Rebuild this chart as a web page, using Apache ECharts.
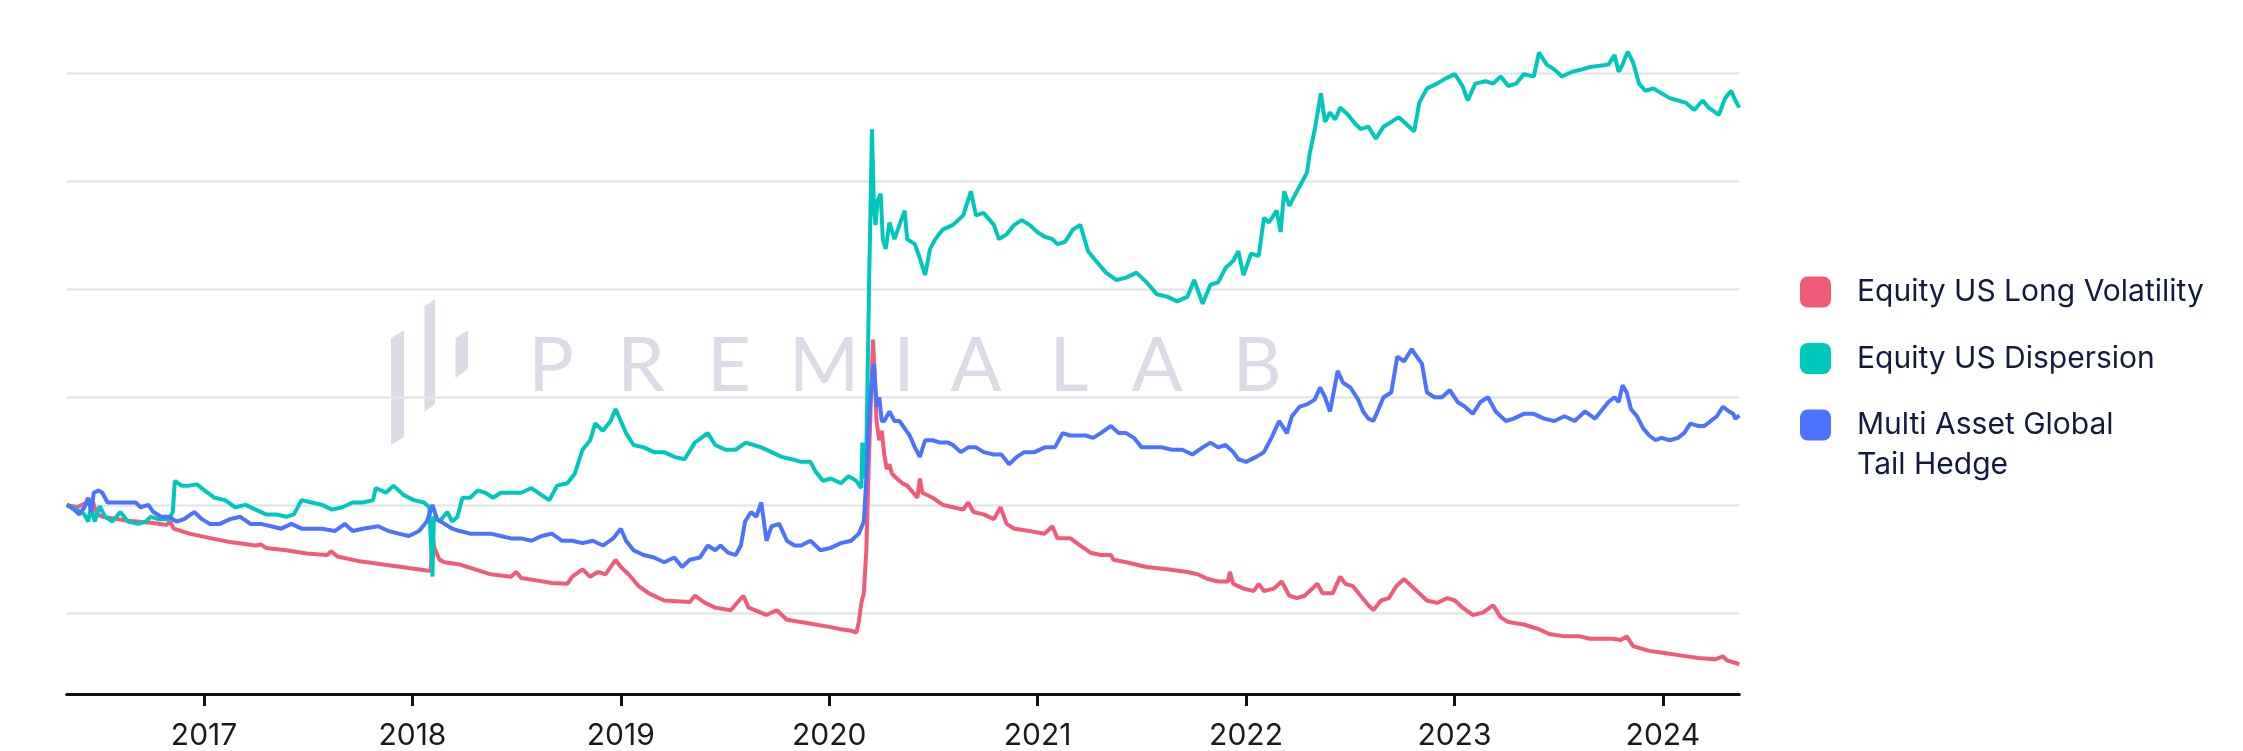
<!DOCTYPE html>
<html>
<head>
<meta charset="utf-8">
<script src="https://cdn.jsdelivr.net/npm/echarts@6/dist/echarts.min.js"></script>
<style>
html,body{margin:0;padding:0;background:#ffffff;}
#chart{width:2243px;height:751px;}
</style>
</head>
<body>
<div id="chart"></div>
<script>
// ---- Data (x = date as decimal year, y = index level, start = 100) ----
const seriesNames = ['Equity US Long Volatility', 'Equity US Dispersion', 'Multi Asset Global Tail Hedge'];
const seriesColors = ['#f05c77', '#00c7bc', '#4b73ff'];
const tickYears = [2017, 2018, 2019, 2020, 2021, 2022, 2023, 2024];
const gridValues = [50, 100, 150, 200, 250, 300];
const startYear = 2016.341;
const endYear = 2024.367;

const longVolatility = [
[2016.341,100.3],[2016.390,99.2],[2016.463,102.5],[2016.488,95.9],[2016.512,94.8],[2016.635,93.0],[2016.757,91.9],[2016.819,91.0],[2016.838,92.6],[2016.855,89.3],[2016.929,87.0],[2017.002,85.5],[2017.125,83.1],[2017.248,81.5],[2017.272,82.0],[2017.297,80.4],[2017.395,79.3],[2017.493,77.8],[2017.591,77.1],[2017.610,78.9],[2017.640,76.4],[2017.738,74.4],[2017.860,72.7],[2017.983,71.1],[2018.069,70.0],[2018.088,69.8],[2018.096,87.0],[2018.105,80.4],[2018.130,74.9],[2018.154,73.8],[2018.228,72.7],[2018.301,70.5],[2018.375,68.2],[2018.473,67.1],[2018.498,69.3],[2018.522,66.5],[2018.596,65.4],[2018.669,64.2],[2018.743,63.8],[2018.767,67.1],[2018.816,70.5],[2018.853,67.1],[2018.890,69.3],[2018.926,68.2],[2018.975,74.9],[2019.000,71.6],[2019.037,68.2],[2019.086,62.7],[2019.135,59.4],[2019.208,56.1],[2019.331,55.4],[2019.355,58.3],[2019.404,55.0],[2019.453,52.8],[2019.527,51.6],[2019.588,58.3],[2019.613,52.8],[2019.698,49.4],[2019.748,51.6],[2019.797,47.2],[2019.865,46.1],[2019.934,45.0],[2020.000,43.9],[2020.056,42.8],[2020.105,42.1],[2020.130,41.2],[2020.142,46.1],[2020.154,54.9],[2020.166,59.4],[2020.178,79.3],[2020.191,123.6],[2020.203,156.8],[2020.210,176.7],[2020.220,156.8],[2020.227,139.1],[2020.240,130.2],[2020.252,134.6],[2020.264,123.6],[2020.276,116.9],[2020.289,119.1],[2020.301,114.7],[2020.325,112.5],[2020.350,110.3],[2020.374,109.2],[2020.423,103.6],[2020.435,112.5],[2020.447,105.9],[2020.496,103.6],[2020.545,100.3],[2020.594,99.2],[2020.643,98.1],[2020.667,101.4],[2020.692,97.0],[2020.741,95.9],[2020.790,93.7],[2020.822,99.2],[2020.851,91.5],[2020.888,89.3],[2020.961,88.2],[2021.034,87.0],[2021.071,90.4],[2021.095,84.9],[2021.156,84.9],[2021.205,81.5],[2021.254,78.2],[2021.303,77.1],[2021.352,77.1],[2021.364,74.9],[2021.425,73.8],[2021.523,71.6],[2021.621,70.5],[2021.719,69.3],[2021.768,68.2],[2021.817,66.0],[2021.866,64.9],[2021.914,64.9],[2021.922,69.3],[2021.939,63.8],[2021.988,61.6],[2022.037,60.5],[2022.061,63.8],[2022.086,60.5],[2022.134,61.6],[2022.171,64.9],[2022.208,58.3],[2022.244,57.2],[2022.281,58.3],[2022.318,61.6],[2022.342,63.8],[2022.367,59.4],[2022.416,59.4],[2022.452,67.1],[2022.477,63.8],[2022.513,62.7],[2022.550,58.3],[2022.587,53.9],[2022.611,51.6],[2022.648,56.1],[2022.685,57.2],[2022.721,62.7],[2022.758,66.0],[2022.795,62.7],[2022.831,59.4],[2022.868,56.1],[2022.917,55.0],[2022.966,57.2],[2023.002,56.1],[2023.039,52.8],[2023.088,49.4],[2023.137,50.5],[2023.186,53.9],[2023.222,48.3],[2023.259,46.1],[2023.333,45.0],[2023.406,42.8],[2023.455,40.6],[2023.528,39.5],[2023.601,39.5],[2023.650,38.4],[2023.758,38.4],[2023.798,37.8],[2023.827,39.5],[2023.857,35.0],[2023.935,32.8],[2024.014,31.7],[2024.092,30.6],[2024.171,29.5],[2024.250,28.9],[2024.289,30.2],[2024.308,28.4],[2024.367,26.6]
];

const dispersion = [
[2016.341,100.3],[2016.390,98.1],[2016.426,95.9],[2016.444,92.6],[2016.458,99.2],[2016.475,92.6],[2016.500,99.7],[2016.525,94.8],[2016.561,92.6],[2016.598,97.0],[2016.635,92.6],[2016.684,91.5],[2016.721,92.6],[2016.745,94.8],[2016.782,93.7],[2016.831,93.7],[2016.850,97.0],[2016.860,111.4],[2016.892,109.2],[2016.929,109.2],[2016.966,109.8],[2017.002,107.0],[2017.051,103.6],[2017.100,102.5],[2017.150,99.2],[2017.199,100.3],[2017.248,98.1],[2017.297,95.9],[2017.346,95.9],[2017.395,94.8],[2017.431,95.9],[2017.468,102.5],[2017.517,101.4],[2017.566,100.3],[2017.615,98.1],[2017.664,99.2],[2017.713,101.4],[2017.762,101.4],[2017.811,102.5],[2017.824,108.1],[2017.873,105.9],[2017.909,109.2],[2017.958,104.8],[2018.007,102.5],[2018.056,101.4],[2018.081,99.2],[2018.096,67.1],[2018.103,94.8],[2018.130,92.6],[2018.167,97.0],[2018.191,92.6],[2018.216,94.8],[2018.240,103.6],[2018.277,103.6],[2018.314,107.0],[2018.350,105.9],[2018.387,103.6],[2018.424,105.9],[2018.473,105.9],[2018.522,105.9],[2018.571,108.1],[2018.620,104.8],[2018.657,102.5],[2018.694,109.2],[2018.743,110.3],[2018.779,114.7],[2018.816,125.8],[2018.853,130.2],[2018.877,138.0],[2018.914,134.6],[2018.951,139.1],[2018.975,144.6],[2019.000,139.1],[2019.025,133.5],[2019.061,128.0],[2019.110,126.9],[2019.159,124.7],[2019.208,124.7],[2019.257,122.5],[2019.306,121.4],[2019.355,129.1],[2019.417,133.5],[2019.453,128.0],[2019.502,125.8],[2019.551,125.8],[2019.600,129.1],[2019.637,128.0],[2019.674,126.9],[2019.723,124.7],[2019.772,122.5],[2019.821,121.4],[2019.865,120.2],[2019.910,120.2],[2019.934,115.8],[2019.971,111.4],[2020.007,112.5],[2020.056,110.3],[2020.093,113.6],[2020.130,111.4],[2020.154,108.1],[2020.159,129.1],[2020.166,112.5],[2020.178,123.6],[2020.191,201.0],[2020.198,236.4],[2020.205,274.0],[2020.215,236.4],[2020.222,229.8],[2020.232,240.9],[2020.247,244.2],[2020.257,223.2],[2020.271,218.7],[2020.289,230.9],[2020.313,223.2],[2020.337,229.8],[2020.362,236.4],[2020.374,223.2],[2020.411,220.9],[2020.435,214.3],[2020.460,206.6],[2020.484,218.7],[2020.509,223.2],[2020.545,227.6],[2020.594,229.8],[2020.643,234.2],[2020.680,245.3],[2020.704,234.2],[2020.741,235.3],[2020.790,229.8],[2020.814,223.2],[2020.851,225.4],[2020.888,229.8],[2020.924,232.0],[2020.961,229.8],[2020.998,226.5],[2021.034,224.3],[2021.071,223.2],[2021.095,220.9],[2021.132,222.0],[2021.169,227.6],[2021.205,229.8],[2021.242,217.6],[2021.279,213.2],[2021.328,207.7],[2021.377,204.3],[2021.425,205.4],[2021.474,207.7],[2021.523,203.2],[2021.572,197.7],[2021.621,196.6],[2021.670,194.4],[2021.719,196.6],[2021.751,204.3],[2021.792,193.3],[2021.829,202.1],[2021.866,203.2],[2021.902,209.9],[2021.939,213.2],[2021.963,217.6],[2021.988,206.6],[2022.024,216.5],[2022.061,215.4],[2022.086,233.1],[2022.110,230.9],[2022.147,236.4],[2022.166,226.5],[2022.183,245.3],[2022.208,238.6],[2022.244,245.3],[2022.269,249.7],[2022.293,254.1],[2022.306,263.0],[2022.330,274.0],[2022.342,280.7],[2022.359,290.6],[2022.379,277.4],[2022.403,281.8],[2022.428,278.5],[2022.452,284.0],[2022.489,280.7],[2022.526,276.3],[2022.550,274.1],[2022.587,275.2],[2022.623,269.6],[2022.660,275.2],[2022.697,277.4],[2022.733,279.6],[2022.770,276.3],[2022.807,273.0],[2022.831,286.2],[2022.868,292.9],[2022.917,295.1],[2022.954,297.3],[2023.002,299.5],[2023.039,294.0],[2023.064,287.3],[2023.100,295.1],[2023.149,296.2],[2023.186,295.1],[2023.222,298.4],[2023.259,294.0],[2023.296,295.1],[2023.333,299.5],[2023.381,298.4],[2023.406,309.5],[2023.443,303.9],[2023.479,301.7],[2023.516,298.4],[2023.565,300.6],[2023.614,301.7],[2023.650,302.8],[2023.739,303.9],[2023.768,308.3],[2023.788,300.6],[2023.807,303.9],[2023.831,309.9],[2023.857,305.0],[2023.886,295.1],[2023.916,291.8],[2023.955,292.9],[2023.994,290.6],[2024.033,288.4],[2024.073,287.3],[2024.112,286.2],[2024.151,282.9],[2024.191,287.3],[2024.220,284.0],[2024.269,280.7],[2024.299,288.4],[2024.328,291.8],[2024.348,287.3],[2024.367,284.0]
];

const tailHedge = [
[2016.341,100.3],[2016.377,98.1],[2016.402,95.9],[2016.426,99.2],[2016.444,103.6],[2016.458,97.0],[2016.471,105.9],[2016.493,107.0],[2016.512,105.9],[2016.537,101.4],[2016.574,101.4],[2016.623,101.4],[2016.672,101.4],[2016.696,99.2],[2016.733,100.3],[2016.757,97.0],[2016.794,94.8],[2016.831,94.8],[2016.868,92.6],[2016.904,93.7],[2016.953,97.0],[2016.990,93.7],[2017.027,91.5],[2017.076,91.5],[2017.125,93.7],[2017.174,94.8],[2017.223,91.5],[2017.272,91.5],[2017.321,90.4],[2017.370,89.3],[2017.419,91.5],[2017.468,89.3],[2017.517,89.3],[2017.566,89.3],[2017.627,88.2],[2017.676,91.5],[2017.713,88.2],[2017.762,89.3],[2017.836,90.4],[2017.885,88.2],[2017.934,87.0],[2017.983,85.9],[2018.032,88.2],[2018.069,92.6],[2018.096,100.3],[2018.118,93.7],[2018.154,91.5],[2018.191,89.3],[2018.228,88.2],[2018.277,87.0],[2018.326,87.0],[2018.375,87.0],[2018.424,85.9],[2018.473,84.8],[2018.522,84.8],[2018.571,83.7],[2018.620,85.9],[2018.669,87.0],[2018.718,83.7],[2018.767,83.7],[2018.816,82.6],[2018.865,83.7],[2018.914,81.5],[2018.963,84.8],[2019.000,89.3],[2019.025,83.7],[2019.061,79.3],[2019.110,77.1],[2019.159,76.0],[2019.208,73.8],[2019.257,76.0],[2019.294,71.6],[2019.331,74.9],[2019.380,76.0],[2019.417,81.5],[2019.453,79.3],[2019.478,81.5],[2019.515,78.2],[2019.551,77.1],[2019.576,81.5],[2019.596,92.6],[2019.625,97.0],[2019.650,94.8],[2019.674,101.4],[2019.699,83.7],[2019.723,90.4],[2019.760,91.5],[2019.797,83.7],[2019.833,81.5],[2019.865,81.5],[2019.910,83.7],[2019.958,79.3],[2020.007,80.4],[2020.056,82.6],[2020.105,83.7],[2020.142,87.0],[2020.166,92.6],[2020.178,112.5],[2020.191,139.1],[2020.203,156.8],[2020.215,165.6],[2020.227,145.7],[2020.240,150.1],[2020.252,139.1],[2020.264,139.1],[2020.289,143.5],[2020.313,139.1],[2020.337,139.1],[2020.362,135.7],[2020.386,132.4],[2020.411,126.9],[2020.435,122.5],[2020.460,130.2],[2020.496,130.2],[2020.533,129.1],[2020.570,129.1],[2020.594,128.0],[2020.631,124.7],[2020.667,126.9],[2020.704,126.9],[2020.741,124.7],[2020.790,123.6],[2020.826,123.6],[2020.863,119.1],[2020.900,122.5],[2020.936,124.7],[2020.985,124.7],[2021.034,126.9],[2021.083,126.9],[2021.120,133.5],[2021.156,132.4],[2021.193,132.4],[2021.230,132.4],[2021.267,131.3],[2021.303,133.5],[2021.352,136.8],[2021.389,133.5],[2021.425,133.5],[2021.462,131.3],[2021.499,126.9],[2021.548,126.9],[2021.597,126.9],[2021.645,125.8],[2021.694,125.8],[2021.743,123.6],[2021.792,126.9],[2021.829,129.1],[2021.866,126.9],[2021.902,128.0],[2021.939,124.7],[2021.963,121.4],[2022.000,120.2],[2022.049,122.5],[2022.086,124.7],[2022.122,131.3],[2022.159,139.1],[2022.196,133.5],[2022.220,141.3],[2022.257,145.7],[2022.293,146.8],[2022.330,149.0],[2022.355,154.6],[2022.379,150.1],[2022.403,143.5],[2022.440,162.3],[2022.465,156.8],[2022.501,154.6],[2022.538,149.0],[2022.562,143.5],[2022.587,140.2],[2022.611,139.1],[2022.636,144.6],[2022.660,150.1],[2022.697,152.3],[2022.726,168.9],[2022.758,166.7],[2022.795,172.3],[2022.819,168.9],[2022.844,165.6],[2022.868,152.3],[2022.905,150.1],[2022.941,150.1],[2022.978,153.4],[2023.015,147.9],[2023.051,145.7],[2023.088,142.4],[2023.125,147.9],[2023.161,150.1],[2023.198,143.5],[2023.247,139.1],[2023.284,140.2],[2023.333,142.4],[2023.381,142.4],[2023.430,140.2],[2023.479,139.1],[2023.528,141.3],[2023.577,139.1],[2023.626,143.5],[2023.675,140.2],[2023.739,147.9],[2023.768,150.1],[2023.788,147.9],[2023.807,155.6],[2023.827,152.3],[2023.847,144.6],[2023.876,141.3],[2023.906,135.7],[2023.935,132.4],[2023.965,130.2],[2023.994,131.3],[2024.033,130.2],[2024.073,131.3],[2024.102,133.5],[2024.132,137.9],[2024.171,136.8],[2024.200,136.8],[2024.230,139.1],[2024.259,141.3],[2024.289,145.7],[2024.318,143.5],[2024.338,142.4],[2024.348,140.2],[2024.367,141.7]
];

const chart = echarts.init(document.getElementById('chart'), null, {renderer: 'canvas'});
const FONT = 'Inter, "Noto Sans", sans-serif';
const legendText = {
  color: '#101b3f', fontSize: 30, fontFamily: FONT, lineHeight: 40, padding: [0, 0, 0, 21]
};
const watermarkLetters = ['P','R','E','M','I','A','L','A','B'];
const watermarkCenters = [551, 641, 729, 824, 904, 976, 1069, 1157, 1257];
const wmColor = '#dadde6';

const graphics = [
  {type:'polygon', z:1, silent:true, shape:{points:[[391,338],[404,330],[404,437],[391,445]]}, style:{fill:wmColor}},
  {type:'polygon', z:1, silent:true, shape:{points:[[424.5,306],[435,299],[435,404],[424.5,412]]}, style:{fill:wmColor}},
  {type:'polygon', z:1, silent:true, shape:{points:[[455.5,338],[468,330],[468,369],[455.5,378]]}, style:{fill:wmColor}}
].concat(watermarkLetters.map((ch, i) => ({
  type: 'text', z: 1, silent: true,
  x: watermarkCenters[i], y: 366,
  style: {text: ch, fill: wmColor, font: '400 76px Lato, "Open Sans", sans-serif', align: 'center', verticalAlign: 'middle'}
})));

const legendBase = {
  left: 1800, orient: 'vertical', padding: 0, selectedMode: false,
  itemWidth: 31, itemHeight: 31, icon: 'roundRect', textStyle: legendText
};

const option = {
  backgroundColor: '#ffffff',
  animation: false,
  grid: {left: 66.7, right: 503.7, top: 29.8, bottom: 56.5, containLabel: false},
  legend: [
    Object.assign({data: [seriesNames[0]], top: 272}, legendBase),
    Object.assign({data: [seriesNames[1]], top: 338.5}, legendBase),
    Object.assign({data: [seriesNames[2]], top: 365,
      formatter: function () { return '\nMulti Asset Global\nTail Hedge'; }}, legendBase)
  ],
  xAxis: {
    type: 'value',
    min: startYear,
    max: endYear,
    axisLine: {show: true, onZero: false, lineStyle: {color: '#111111', width: 3}},
    axisTick: {show: true, length: 12, lineStyle: {color: '#111111', width: 3}, customValues: tickYears},
    axisLabel: {
      customValues: tickYears,
      formatter: function (v) { return String(Math.round(v)); },
      color: '#1a1a1a', fontSize: 30, fontFamily: FONT, margin: 27, lineHeight: 30
    },
    splitLine: {show: false}
  },
  yAxis: {
    type: 'value', min: 12.85, max: 320,
    axisLine: {show: false}, axisTick: {show: false}, axisLabel: {show: false}, splitLine: {show: false}
  },
  graphic: graphics,
  series: [
    {
      name: seriesNames[0], type: 'line', data: longVolatility,
      showSymbol: false, symbol: 'none', color: seriesColors[0],
      lineStyle: {width: 4, color: seriesColors[0]}, z: 3,
      markLine: {
        silent: true, symbol: ['none','none'], z: 1,
        label: {show: false},
        lineStyle: {color: '#e4e7e9', width: 2.5, type: 'solid'},
        data: gridValues.map(v => ({yAxis: v}))
      }
    },
    {
      name: seriesNames[1], type: 'line', data: dispersion,
      showSymbol: false, symbol: 'none', color: seriesColors[1],
      lineStyle: {width: 4, color: seriesColors[1]}, z: 4
    },
    {
      name: seriesNames[2], type: 'line', data: tailHedge,
      showSymbol: false, symbol: 'none', color: seriesColors[2],
      lineStyle: {width: 4, color: seriesColors[2]}, z: 5
    }
  ]
};
chart.setOption(option);
</script>
</body>
</html>
